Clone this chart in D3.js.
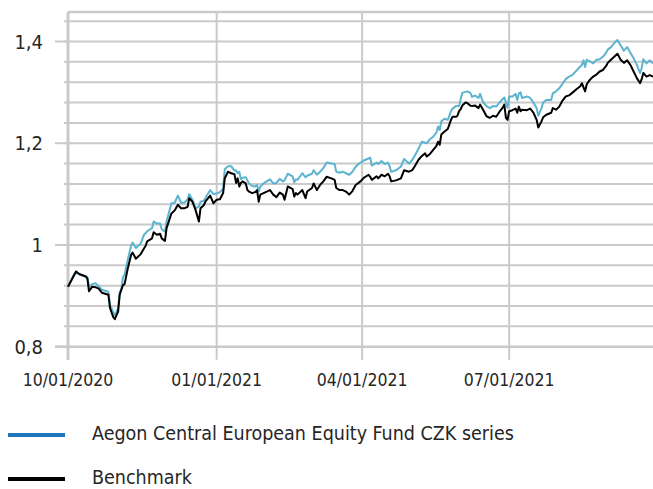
<!DOCTYPE html>
<html>
<head>
<meta charset="utf-8">
<script src="https://cdn.jsdelivr.net/npm/d3@7"></script>
<style>
  body { margin: 0; background: #fff; }
  svg text { font-family: "DejaVu Sans Condensed", "DejaVu Sans", sans-serif; fill: #262626; }
</style>
</head>
<body>
<svg id="chart" width="653" height="489"></svg>
<script>
// values
const dates = [
  "2020-10-01","2020-10-05","2020-10-06","2020-10-08","2020-10-12","2020-10-13","2020-10-14","2020-10-16","2020-10-18","2020-10-20",
  "2020-10-22","2020-10-24","2020-10-26","2020-10-27","2020-10-29","2020-10-30","2020-11-01","2020-11-02","2020-11-03","2020-11-04",
  "2020-11-05","2020-11-07","2020-11-09","2020-11-10","2020-11-12","2020-11-15","2020-11-17","2020-11-18","2020-11-19","2020-11-22",
  "2020-11-23","2020-11-25","2020-11-27","2020-11-28","2020-11-30","2020-12-01","2020-12-04","2020-12-06","2020-12-08","2020-12-10",
  "2020-12-12","2020-12-14","2020-12-15","2020-12-17","2020-12-19","2020-12-21","2020-12-22","2020-12-24","2020-12-25","2020-12-28",
  "2020-12-30","2021-01-01","2021-01-03","2021-01-05","2021-01-06","2021-01-08","2021-01-10","2021-01-12","2021-01-13","2021-01-14",
  "2021-01-15","2021-01-16","2021-01-17","2021-01-19","2021-01-20","2021-01-21","2021-01-23","2021-01-25","2021-01-26","2021-01-27",
  "2021-01-28","2021-01-30","2021-02-01","2021-02-03","2021-02-05","2021-02-07","2021-02-09","2021-02-11","2021-02-12","2021-02-14",
  "2021-02-17","2021-02-18","2021-02-19","2021-02-20","2021-02-23","2021-02-25","2021-02-26","2021-03-01","2021-03-02","2021-03-04",
  "2021-03-06","2021-03-08","2021-03-10","2021-03-13","2021-03-15","2021-03-16","2021-03-18","2021-03-20","2021-03-22","2021-03-24",
  "2021-03-26","2021-03-28","2021-03-31","2021-04-02","2021-04-05","2021-04-06","2021-04-07","2021-04-10","2021-04-11","2021-04-13",
  "2021-04-15","2021-04-17","2021-04-18","2021-04-19","2021-04-22","2021-04-25","2021-04-27","2021-04-30","2021-05-02","2021-05-04",
  "2021-05-06","2021-05-08","2021-05-10","2021-05-11","2021-05-13","2021-05-15","2021-05-17","2021-05-18","2021-05-19","2021-05-20",
  "2021-05-22","2021-05-24","2021-05-26","2021-05-27","2021-05-29","2021-05-30","2021-05-31","2021-06-01","2021-06-02","2021-06-04",
  "2021-06-05","2021-06-07","2021-06-08","2021-06-10","2021-06-12","2021-06-13","2021-06-15","2021-06-17","2021-06-19","2021-06-21",
  "2021-06-23","2021-06-25","2021-06-27","2021-06-28","2021-06-29","2021-06-30","2021-07-01","2021-07-03","2021-07-05","2021-07-06",
  "2021-07-07","2021-07-08","2021-07-09","2021-07-12","2021-07-14","2021-07-16","2021-07-18","2021-07-19","2021-07-21","2021-07-22",
  "2021-07-24","2021-07-27","2021-07-28","2021-07-30","2021-08-01","2021-08-03","2021-08-05","2021-08-07","2021-08-09","2021-08-12",
  "2021-08-14","2021-08-15","2021-08-16","2021-08-17","2021-08-18","2021-08-20","2021-08-22","2021-08-24","2021-08-26","2021-08-28",
  "2021-08-30","2021-08-31","2021-09-02","2021-09-04","2021-09-06","2021-09-08","2021-09-10","2021-09-12","2021-09-14","2021-09-16",
  "2021-09-18","2021-09-20","2021-09-21","2021-09-22","2021-09-24","2021-09-26","2021-09-28"
]

const fund = [
  0.918,0.944,0.945,0.942,0.938,0.937,0.918,0.923,0.925,0.919,
  0.912,0.910,0.908,0.882,0.868,0.862,0.876,0.908,0.912,0.937,
  0.941,0.971,0.998,1.005,0.994,1.003,1.020,1.023,1.027,1.033,
  1.046,1.042,1.042,1.031,1.026,1.046,1.082,1.083,1.097,1.083,
  1.083,1.090,1.100,1.089,1.072,1.076,1.085,1.087,1.092,1.108,
  1.100,1.101,1.104,1.110,1.149,1.155,1.155,1.146,1.147,1.141,
  1.144,1.129,1.132,1.133,1.127,1.121,1.116,1.115,1.118,1.105,
  1.115,1.121,1.125,1.129,1.121,1.122,1.130,1.125,1.127,1.140,
  1.135,1.123,1.129,1.128,1.141,1.133,1.136,1.140,1.147,1.138,
  1.144,1.151,1.162,1.160,1.159,1.144,1.142,1.144,1.141,1.138,
  1.144,1.154,1.162,1.166,1.170,1.172,1.156,1.162,1.159,1.165,
  1.159,1.162,1.155,1.144,1.147,1.154,1.169,1.160,1.167,1.178,
  1.190,1.203,1.201,1.200,1.208,1.213,1.221,1.233,1.226,1.243,
  1.248,1.246,1.263,1.268,1.273,1.273,1.273,1.287,1.299,1.301,
  1.302,1.299,1.291,1.294,1.289,1.297,1.280,1.273,1.269,1.273,
  1.272,1.280,1.287,1.290,1.280,1.270,1.292,1.292,1.297,1.285,
  1.298,1.300,1.289,1.292,1.289,1.280,1.269,1.254,1.269,1.280,
  1.285,1.285,1.298,1.302,1.308,1.317,1.326,1.331,1.334,1.344,
  1.351,1.354,1.363,1.350,1.364,1.361,1.357,1.364,1.365,1.370,
  1.378,1.384,1.389,1.397,1.403,1.392,1.382,1.389,1.378,1.367,
  1.354,1.338,1.348,1.365,1.357,1.363,1.357
]

const bench = [
  0.918,0.942,0.948,0.943,0.938,0.934,0.909,0.918,0.917,0.914,
  0.906,0.904,0.902,0.876,0.858,0.854,0.869,0.902,0.912,0.921,
  0.923,0.954,0.980,0.985,0.973,0.982,0.993,0.998,1.007,1.013,
  1.025,1.020,1.022,1.013,1.008,1.033,1.062,1.068,1.079,1.072,
  1.072,1.075,1.092,1.085,1.068,1.046,1.072,1.078,1.085,1.097,
  1.082,1.089,1.090,1.102,1.131,1.144,1.141,1.139,1.122,1.131,
  1.115,1.122,1.125,1.121,1.108,1.105,1.102,1.104,1.108,1.085,
  1.099,1.102,1.105,1.108,1.099,1.094,1.103,1.099,1.089,1.115,
  1.110,1.095,1.102,1.099,1.108,1.092,1.105,1.112,1.121,1.108,
  1.118,1.125,1.134,1.131,1.128,1.112,1.108,1.108,1.105,1.099,
  1.106,1.118,1.125,1.132,1.138,1.134,1.128,1.135,1.131,1.138,
  1.135,1.140,1.135,1.125,1.127,1.131,1.147,1.144,1.147,1.157,
  1.168,1.175,1.180,1.174,1.179,1.187,1.195,1.203,1.197,1.217,
  1.223,1.228,1.246,1.252,1.252,1.254,1.263,1.267,1.274,1.280,
  1.279,1.274,1.273,1.274,1.269,1.276,1.265,1.253,1.250,1.254,
  1.252,1.262,1.270,1.276,1.250,1.246,1.263,1.265,1.268,1.260,
  1.272,1.263,1.266,1.265,1.268,1.260,1.246,1.231,1.243,1.251,
  1.256,1.260,1.269,1.266,1.272,1.284,1.292,1.294,1.299,1.307,
  1.312,1.318,1.310,1.302,1.316,1.325,1.331,1.335,1.341,1.344,
  1.352,1.358,1.364,1.370,1.376,1.364,1.358,1.363,1.354,1.341,
  1.328,1.318,1.326,1.338,1.331,1.334,1.331
]

const xTickDates = ["2020-10-01", "2021-01-01", "2021-04-01", "2021-07-01"]
const xTickLabels = ["10/01/2020", "01/01/2021", "04/01/2021", "07/01/2021"]
const yTicks = [0.8, 1, 1.2, 1.4]
const yTickLabels = ["0,8", "1", "1,2", "1,4"]
const seriesNames = ["Aegon Central European Equity Fund CZK series", "Benchmark"]

const parse = d3.utcParse("%Y-%m-%d")
const rows = dates.map((d, i) => ({date: parse(d), fund: fund[i], bench: bench[i]}))

const svg = d3.select("#chart")
const plot = {left: 68, right: 653, top: 12, bottom: 346.7}

const x = d3.scaleUtc()
    .domain([parse("2020-10-01"), parse("2021-09-28")])
    .range([plot.left, plot.right])

const y = d3.scaleLinear()
    .domain([0.8, 1.458])
    .range([plot.bottom, plot.top])

const grid = "#cacaca"

// horizontal grid, one line every 0.04
const minor = d3.range(0.84, 1.45, 0.04).map(v => +v.toFixed(2))
svg.append("g")
    .selectAll("line")
    .data(minor)
    .join("line")
    .attr("x1", plot.left - 4).attr("x2", plot.right)
    .attr("y1", d => y(d)).attr("y2", d => y(d))
    .attr("stroke", grid).attr("stroke-width", 2)

// long ticks at labelled values
svg.append("g")
    .selectAll("line")
    .data(yTicks)
    .join("line")
    .attr("x1", plot.left - 13).attr("x2", plot.left)
    .attr("y1", d => y(d)).attr("y2", d => y(d))
    .attr("stroke", grid).attr("stroke-width", 2)

// top border
svg.append("line")
    .attr("x1", plot.left).attr("x2", plot.right)
    .attr("y1", plot.top).attr("y2", plot.top)
    .attr("stroke", grid).attr("stroke-width", 2.5)

// vertical grid + ticks below the axis
svg.append("g")
    .selectAll("line")
    .data(xTickDates.map(parse))
    .join("line")
    .attr("x1", d => x(d)).attr("x2", d => x(d))
    .attr("y1", plot.top).attr("y2", plot.bottom + 13)
    .attr("stroke", grid).attr("stroke-width", 2)

// axis lines
svg.append("line")
    .attr("x1", plot.left).attr("x2", plot.left)
    .attr("y1", plot.top).attr("y2", plot.bottom + 13)
    .attr("stroke", grid).attr("stroke-width", 3)
svg.append("line")
    .attr("x1", plot.left - 13).attr("x2", plot.right)
    .attr("y1", plot.bottom).attr("y2", plot.bottom)
    .attr("stroke", grid).attr("stroke-width", 2.5)

// labels
svg.append("g")
    .selectAll("text")
    .data(yTicks)
    .join("text")
    .attr("x", 43)
    .attr("y", d => y(d))
    .attr("dy", "0.36em")
    .attr("text-anchor", "end")
    .attr("font-size", 20)
    .text((d, i) => yTickLabels[i])

svg.append("g")
    .selectAll("text")
    .data(xTickDates.map(parse))
    .join("text")
    .attr("x", d => x(d))
    .attr("y", 386)
    .attr("text-anchor", "middle")
    .attr("font-size", 17.5)
    .text((d, i) => xTickLabels[i])

// series
const lineFund = d3.line().x(d => x(d.date)).y(d => y(d.fund))
const lineBench = d3.line().x(d => x(d.date)).y(d => y(d.bench))

svg.append("path")
    .datum(rows)
    .attr("fill", "none")
    .attr("stroke", "#5cb4cf")
    .attr("stroke-width", 2)
    .attr("stroke-linejoin", "round")
    .attr("d", lineFund)

svg.append("path")
    .datum(rows)
    .attr("fill", "none")
    .attr("stroke", "#000")
    .attr("stroke-width", 2)
    .attr("stroke-linejoin", "round")
    .attr("d", lineBench)

// legend
const legendColors = ["#1f76ba", "#000"]
const legendY = [435, 479]
const legend = svg.append("g")
    .selectAll("g")
    .data(seriesNames)
    .join("g")
    .attr("transform", (d, i) => `translate(0,${legendY[i]})`)
legend.append("line")
    .attr("x1", 8).attr("x2", 65)
    .attr("stroke", (d, i) => legendColors[i])
    .attr("stroke-width", 4)
legend.append("text")
    .attr("x", 92)
    .attr("y", 5)
    .attr("font-size", 19.5)
    .text(d => d)
</script>
</body>
</html>
